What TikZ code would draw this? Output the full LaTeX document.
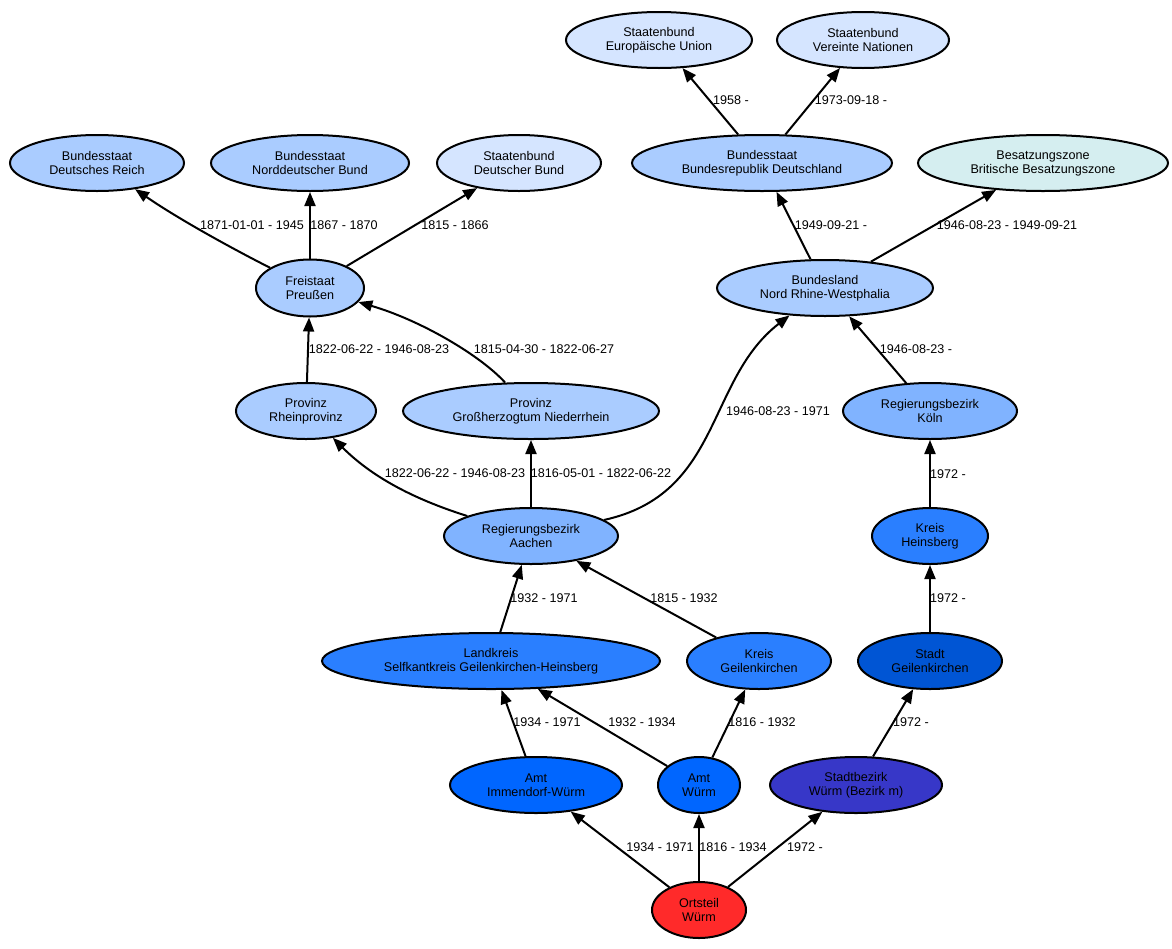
\documentclass[tikz,border=0pt]{standalone}
\usepackage{fontspec}
\setmainfont{Liberation Sans}
\usetikzlibrary{shapes.geometric,arrows.meta}
\definecolor{cBund}{HTML}{AACCFF}
\definecolor{cStaat}{HTML}{D5E5FF}
\definecolor{cZone}{HTML}{D5EEF0}
\definecolor{cRB}{HTML}{80B3FF}
\definecolor{cKreis}{HTML}{2A7FFF}
\definecolor{cAmt}{HTML}{0066FF}
\definecolor{cStadt}{HTML}{0055D4}
\definecolor{cBezirk}{HTML}{3737C8}
\definecolor{cOrt}{HTML}{FF2A2A}
\begin{document}
\begin{tikzpicture}[x=1pt,y=-1pt,
  every node/.style={font=\fontsize{12.6}{14}\selectfont},
  ent/.style={ellipse,draw,line width=2pt,inner sep=0pt,align=center},
  lab/.style={inner sep=0pt},
  rel/.style={line width=2pt,-{Triangle[length=14pt,width=11pt]}}]
\useasboundingbox (0,0) rectangle (1172,948);
% row 1
\node[ent,fill=cStaat,minimum width=186pt,minimum height=56pt] (eu) at (659,40) {Staatenbund\\Europäische Union};
\node[ent,fill=cStaat,minimum width=172pt,minimum height=56pt] (vn) at (863,40) {Staatenbund\\Vereinte Nationen};
% row 2
\node[ent,fill=cBund,minimum width=174pt,minimum height=56pt] (dr) at (97,163) {Bundesstaat\\Deutsches Reich};
\node[ent,fill=cBund,minimum width=198pt,minimum height=56pt] (ndb) at (310,163) {Bundesstaat\\Norddeutscher Bund};
\node[ent,fill=cStaat,minimum width=164pt,minimum height=56pt] (db) at (519,163) {Staatenbund\\Deutscher Bund};
\node[ent,fill=cBund,minimum width=260pt,minimum height=56pt] (brd) at (762,163) {Bundesstaat\\Bundesrepublik Deutschland};
\node[ent,fill=cZone,minimum width=250pt,minimum height=56pt] (bz) at (1043,163) {Besatzungszone\\Britische Besatzungszone};
% row 3
\node[ent,fill=cBund,minimum width=108pt,minimum height=57pt] (fp) at (310,288) {Freistaat\\Preußen};
\node[ent,fill=cBund,minimum width=216pt,minimum height=56pt] (nrw) at (825,288) {Bundesland\\Nord Rhine-Westphalia};
% row 4
\node[ent,fill=cBund,minimum width=140pt,minimum height=56pt] (rp) at (306,411) {Provinz\\Rheinprovinz};
\node[ent,fill=cBund,minimum width=256pt,minimum height=56pt] (nr) at (531,411) {Provinz\\Großherzogtum Niederrhein};
\node[ent,fill=cRB,minimum width=174pt,minimum height=56pt] (koeln) at (930,411) {Regierungsbezirk\\Köln};
% row 5
\node[ent,fill=cRB,minimum width=174pt,minimum height=56pt] (aachen) at (531,536) {Regierungsbezirk\\Aachen};
\node[ent,fill=cKreis,minimum width=116pt,minimum height=56pt] (hs) at (930,536) {Kreis\\Heinsberg};
% row 6
\node[ent,fill=cKreis,minimum width=338pt,minimum height=56pt] (lk) at (491,661) {Landkreis\\Selfkantkreis Geilenkirchen-Heinsberg};
\node[ent,fill=cKreis,minimum width=144pt,minimum height=56pt] (kg) at (759,661) {Kreis\\Geilenkirchen};
\node[ent,fill=cStadt,minimum width=144pt,minimum height=56pt] (sg) at (930,661) {Stadt\\Geilenkirchen};
% row 7
\node[ent,fill=cAmt,minimum width=172pt,minimum height=56pt] (aiw) at (536,785) {Amt\\Immendorf-Würm};
\node[ent,fill=cAmt,minimum width=82pt,minimum height=56pt] (aw) at (699,785) {Amt\\Würm};
\node[ent,fill=cBezirk,minimum width=172pt,minimum height=56pt] (sbw) at (856,785) {Stadtbezirk\\Würm (Bezirk m)};
% row 8
\node[ent,fill=cOrt,minimum width=94pt,minimum height=56pt] (ow) at (699,910) {Ortsteil\\Würm};

% edges
\draw[rel] (ow) -- (aiw);
\draw[rel] (ow) -- (aw);
\draw[rel] (ow) -- (sbw);
\draw[rel] (aiw) -- (lk);
\draw[rel] (aw) -- (lk);
\draw[rel] (aw) -- (kg);
\draw[rel] (sbw) -- (sg);
\draw[rel] (lk) -- (aachen);
\draw[rel] (kg) -- (aachen);
\draw[rel] (sg) -- (hs);
\draw[rel] (hs) -- (koeln);
\draw[rel] (aachen) .. controls (410,498) and (370,475) .. (rp);
\draw[rel] (aachen) -- (nr);
\draw[rel] (aachen) .. controls (722,494) and (706,380) .. (nrw);
\draw[rel] (koeln) -- (nrw);
\draw[rel] (rp) -- (fp);
\draw[rel] (nr) .. controls (480,355) and (420,320) .. (fp);
\draw[rel] (fp) .. controls (235,250) and (180,220) .. (dr);
\draw[rel] (fp) -- (ndb);
\draw[rel] (fp) -- (db);
\draw[rel] (nrw) -- (brd);
\draw[rel] (nrw) -- (bz);
\draw[rel] (brd) -- (eu);
\draw[rel] (brd) -- (vn);

% labels
\node[lab] (l1) at (252,225) {1871-01-01 - 1945};
\node[lab] (l2) at (344,225) {1867 - 1870};
\node[lab] (l3) at (455,225) {1815 - 1866};
\node[lab] (l4) at (731,100) {1958 -};
\node[lab] (l5) at (851,100) {1973-09-18 -};
\node[lab] (l6) at (831,225) {1949-09-21 -};
\node[lab] (l7) at (1007,225) {1946-08-23 - 1949-09-21};
\node[lab] (l8) at (379,349) {1822-06-22 - 1946-08-23};
\node[lab] (l9) at (544,349) {1815-04-30 - 1822-06-27};
\node[lab] (l10) at (916,349) {1946-08-23 -};
\node[lab] (l11) at (778,411) {1946-08-23 - 1971};
\node[lab] (l12) at (455,473) {1822-06-22 - 1946-08-23};
\node[lab] (l13) at (601,473) {1816-05-01 - 1822-06-22};
\node[lab] (l14) at (948,474) {1972 -};
\node[lab] (l15) at (544,598) {1932 - 1971};
\node[lab] (l16) at (684,598) {1815 - 1932};
\node[lab] (l17) at (948,598) {1972 -};
\node[lab] (l18) at (547,722) {1934 - 1971};
\node[lab] (l19) at (642,722) {1932 - 1934};
\node[lab] (l20) at (762,722) {1816 - 1932};
\node[lab] (l21) at (911,722) {1972 -};
\node[lab] (l22) at (660,847) {1934 - 1971};
\node[lab] (l23) at (733,847) {1816 - 1934};
\node[lab] (l24) at (805,847) {1972 -};
\end{tikzpicture}
\end{document}
